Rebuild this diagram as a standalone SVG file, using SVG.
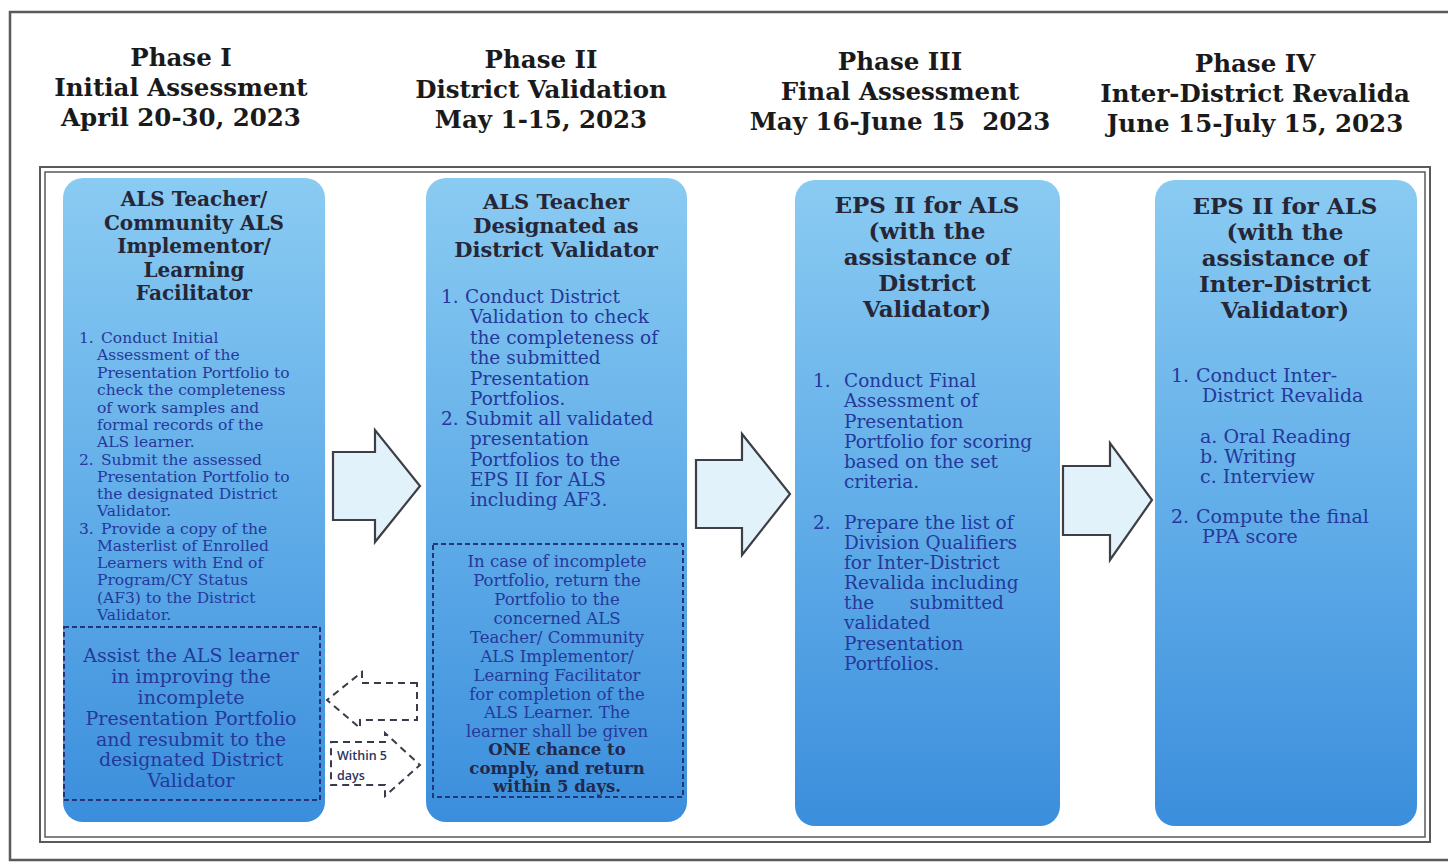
<svg xmlns="http://www.w3.org/2000/svg" width="1448" height="866" viewBox="0 0 1448 866">
<defs>
<linearGradient id="colGrad" x1="0" y1="0" x2="0" y2="1">
<stop offset="0" stop-color="#8acbf2"/>
<stop offset="0.5" stop-color="#62aee9"/>
<stop offset="1" stop-color="#3b8edc"/>
</linearGradient>
<style>
.hdr{font-family:"DejaVu Serif","Liberation Serif",serif;font-weight:bold;font-size:24.5px;fill:#1a1a1a;text-anchor:middle}
.ttl{font-family:"DejaVu Serif","Liberation Serif",serif;font-weight:bold;fill:#262636;text-anchor:middle}
.body{font-family:"DejaVu Serif","Liberation Serif",serif;fill:#26389a}
.ctr{text-anchor:middle}
.col{fill:url(#colGrad)}
.blk{fill:#e2f2fb;stroke:#3e3e46;stroke-width:2.2;stroke-linejoin:miter}
.dbox{fill:none;stroke:#24367a;stroke-width:2;stroke-dasharray:5 3}
.darr{fill:#ffffff;stroke:#3a3a4a;stroke-width:2;stroke-dasharray:7 5}
.frame{fill:none;stroke:#5a5a5a}
.small{font-family:"Open Sans","Liberation Sans",sans-serif;font-size:12.5px;font-weight:600;fill:#2a3560}
</style>
</defs>
<rect width="1448" height="866" fill="#ffffff"/>
<rect class="frame" x="10" y="12" width="1450" height="848" stroke-width="2.5"/>
<rect class="frame" x="40" y="167" width="1390" height="675" stroke-width="2"/>
<rect class="frame" x="45" y="172" width="1380" height="665" stroke-width="1.5"/>

<g id="headers">
<text class="hdr" x="181" y="66">Phase I</text>
<text class="hdr" x="181" y="96">Initial Assessment</text>
<text class="hdr" x="181" y="126">April 20-30, 2023</text>
<text class="hdr" x="541" y="68">Phase II</text>
<text class="hdr" x="541" y="98">District Validation</text>
<text class="hdr" x="541" y="128">May 1-15, 2023</text>
<text class="hdr" x="900" y="70">Phase III</text>
<text class="hdr" x="900" y="100">Final Assessment</text>
<text class="hdr" x="900" y="130" xml:space="preserve">May 16-June 15  2023</text>
<text class="hdr" x="1255" y="72">Phase IV</text>
<text class="hdr" x="1255" y="102">Inter-District Revalida</text>
<text class="hdr" x="1255" y="132">June 15-July 15, 2023</text>
</g>

<g id="phase1">
<rect class="col" x="63" y="178" width="262" height="644" rx="20"/>
<text class="ttl" font-size="20" x="194" y="206">ALS Teacher/</text>
<text class="ttl" font-size="20" x="194" y="230">Community ALS</text>
<text class="ttl" font-size="20" x="194" y="253">Implementor/</text>
<text class="ttl" font-size="20" x="194" y="277">Learning</text>
<text class="ttl" font-size="20" x="194" y="300">Facilitator</text>
<g class="body" font-size="15.5">
<text x="79" y="343">1.</text>
<text x="101" y="343">Conduct Initial</text>
<text x="97" y="360">Assessment of the</text>
<text x="97" y="378">Presentation Portfolio to</text>
<text x="97" y="395">check the completeness</text>
<text x="97" y="413">of work samples and</text>
<text x="97" y="430">formal records of the</text>
<text x="97" y="447">ALS learner.</text>
<text x="79" y="465">2.</text>
<text x="101" y="465">Submit the assessed</text>
<text x="97" y="482">Presentation Portfolio to</text>
<text x="97" y="499">the designated District</text>
<text x="97" y="516">Validator.</text>
<text x="79" y="534">3.</text>
<text x="101" y="534">Provide a copy of the</text>
<text x="97" y="551">Masterlist of Enrolled</text>
<text x="97" y="568">Learners with End of</text>
<text x="97" y="585">Program/CY Status</text>
<text x="97" y="603">(AF3) to the District</text>
<text x="97" y="620">Validator.</text>
</g>
<rect class="dbox" x="64" y="627" width="256" height="173"/>
<g class="body ctr" font-size="19">
<text x="191" y="662">Assist the ALS learner</text>
<text x="191" y="683">in improving the</text>
<text x="191" y="704">incomplete</text>
<text x="191" y="725">Presentation Portfolio</text>
<text x="191" y="746">and resubmit to the</text>
<text x="191" y="766">designated District</text>
<text x="191" y="787">Validator</text>
</g>
</g>

<g id="phase2">
<rect class="col" x="426" y="178" width="261" height="644" rx="20"/>
<text class="ttl" font-size="21" x="556" y="209">ALS Teacher</text>
<text class="ttl" font-size="21" x="556" y="233">Designated as</text>
<text class="ttl" font-size="21" x="556" y="257">District Validator</text>
<g class="body" font-size="18.5">
<text x="441" y="303">1.</text>
<text x="465" y="303">Conduct District</text>
<text x="470" y="323">Validation to check</text>
<text x="470" y="344">the completeness of</text>
<text x="470" y="364">the submitted</text>
<text x="470" y="385">Presentation</text>
<text x="470" y="405">Portfolios.</text>
<text x="441" y="425">2.</text>
<text x="465" y="425">Submit all validated</text>
<text x="470" y="445">presentation</text>
<text x="470" y="466">Portfolios to the</text>
<text x="470" y="486">EPS II for ALS</text>
<text x="470" y="506">including AF3.</text>
</g>
<rect class="dbox" x="433" y="544" width="250" height="253"/>
<g class="body ctr" font-size="16.5">
<text x="557" y="567">In case of incomplete</text>
<text x="557" y="586">Portfolio, return the</text>
<text x="557" y="605">Portfolio to the</text>
<text x="557" y="624">concerned ALS</text>
<text x="557" y="643">Teacher/ Community</text>
<text x="557" y="662">ALS Implementor/</text>
<text x="557" y="681">Learning Facilitator</text>
<text x="557" y="700">for completion of the</text>
<text x="557" y="718">ALS Learner. The</text>
<text x="557" y="737">learner shall be given</text>
<text x="557" y="755" font-weight="bold" fill="#22284a">ONE chance to</text>
<text x="557" y="774" font-weight="bold" fill="#22284a">comply, and return</text>
<text x="557" y="792" font-weight="bold" fill="#22284a">within 5 days.</text>
</g>
</g>

<g id="phase3">
<rect class="col" x="795" y="180" width="265" height="646" rx="20"/>
<text class="ttl" font-size="23" x="927" y="213">EPS II for ALS</text>
<text class="ttl" font-size="23" x="927" y="239">(with the</text>
<text class="ttl" font-size="23" x="927" y="265">assistance of</text>
<text class="ttl" font-size="23" x="927" y="291">District</text>
<text class="ttl" font-size="23" x="927" y="317">Validator)</text>
<g class="body" font-size="18.5">
<text x="813" y="387">1.</text>
<text x="844" y="387">Conduct Final</text>
<text x="844" y="407">Assessment of</text>
<text x="844" y="428">Presentation</text>
<text x="844" y="448">Portfolio for scoring</text>
<text x="844" y="468">based on the set</text>
<text x="844" y="488">criteria.</text>
<text x="813" y="529">2.</text>
<text x="844" y="529">Prepare the list of</text>
<text x="844" y="549">Division Qualifiers</text>
<text x="844" y="569">for Inter-District</text>
<text x="844" y="589">Revalida including</text>
<text x="844" y="609" xml:space="preserve">the      submitted</text>
<text x="844" y="629">validated</text>
<text x="844" y="650">Presentation</text>
<text x="844" y="670">Portfolios.</text>
</g>
</g>

<g id="phase4">
<rect class="col" x="1155" y="180" width="262" height="646" rx="20"/>
<text class="ttl" font-size="23" x="1285" y="214">EPS II for ALS</text>
<text class="ttl" font-size="23" x="1285" y="240">(with the</text>
<text class="ttl" font-size="23" x="1285" y="266">assistance of</text>
<text class="ttl" font-size="23" x="1285" y="292">Inter-District</text>
<text class="ttl" font-size="23" x="1285" y="318">Validator)</text>
<g class="body" font-size="19">
<text x="1171" y="382">1.</text>
<text x="1196" y="382">Conduct Inter-</text>
<text x="1202" y="402">District Revalida</text>
<text x="1200" y="443">a. Oral Reading</text>
<text x="1200" y="463">b. Writing</text>
<text x="1200" y="483">c. Interview</text>
<text x="1171" y="523">2.</text>
<text x="1196" y="523">Compute the final</text>
<text x="1202" y="543">PPA score</text>
</g>
</g>

<g id="connectors">
<polygon class="blk" points="333,452 375,452 375,430 420,486 375,542 375,520 333,520"/>
<polygon class="blk" points="696,460 742,460 742,434 790,494 742,555 742,528 696,528"/>
<polygon class="blk" points="1063,466 1110,466 1110,443 1152,500 1110,560 1110,535 1063,535"/>
<polygon class="darr" points="417,683 362,683 362,672 327,700 360,728 360,720 417,720"/>
<polygon class="darr" points="331,742 385,742 385,733 420,765 385,796 385,785 331,785"/>
<text class="small" x="337" y="760">Within 5</text>
<text class="small" x="337" y="780">days</text>
</g>
</svg>
